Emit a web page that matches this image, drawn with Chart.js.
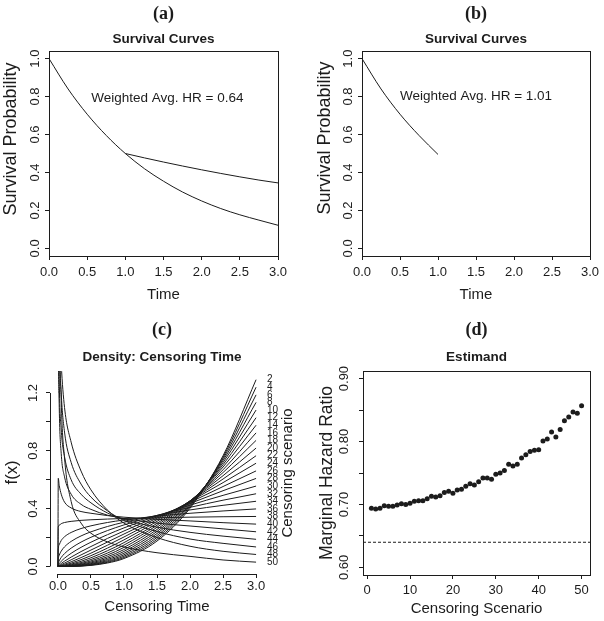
<!DOCTYPE html>
<html>
<head>
<meta charset="utf-8">
<script src="https://cdn.jsdelivr.net/npm/chart.js@4.4.1/dist/chart.umd.min.js"></script>
<style>
  html, body { margin: 0; padding: 0; background: #fff; }
  #wrap { position: relative; width: 604px; height: 621px; }
  .panel { position: absolute; }
</style>
</head>
<body>
<div id="wrap">
  <div class="panel" style="left:0;top:0"><canvas id="panelA" width="302" height="310"></canvas></div>
  <div class="panel" style="left:302px;top:0"><canvas id="panelB" width="302" height="310"></canvas></div>
  <div class="panel" style="left:0;top:310px"><canvas id="panelC" width="302" height="311"></canvas></div>
  <div class="panel" style="left:302px;top:310px"><canvas id="panelD" width="302" height="311"></canvas></div>
</div>
<script>
// (a) / (b) survival curves
const survTime = [0, 0.25, 0.5, 0.75, 1, 1.25, 1.5, 1.75, 2, 2.25, 2.5, 2.75, 3];
const survLower = [1, 0.84, 0.707, 0.595, 0.5, 0.42, 0.354, 0.297, 0.25, 0.21, 0.177, 0.149, 0.122];
const survUpperTime = [1, 1.25, 1.5, 1.75, 2, 2.25, 2.5, 2.75, 3];
const survUpper = [0.5, 0.477, 0.455, 0.434, 0.414, 0.395, 0.377, 0.36, 0.345];
const survTimeB = [0, 0.25, 0.5, 0.75, 1];
const survB = [1, 0.84, 0.707, 0.595, 0.495];
const timeTicks = [0, 0.5, 1, 1.5, 2, 2.5, 3];
const survTicks = [0, 0.2, 0.4, 0.6, 0.8, 1];

// (c) censoring time densities, one row per plotted scenario
const densityX = [0, 0.005, 0.02, 0.05, 0.1, 0.2, 0.35, 0.5, 0.75, 1, 1.5, 2, 2.5, 3];
const scenarioIds = [2, 4, 6, 8, 10, 12, 14, 16, 18, 20, 22, 24, 26, 28, 30, 32, 34, 36, 38, 40, 42, 44, 46, 48, 50];
const densityCurves = [
  [0, 0, 0, 0, 0.0001, 0.0005, 0.0027, 0.0075, 0.024, 0.055, 0.176, 0.403, 0.766, 1.292],
  [0, 0, 0, 0, 0.0001, 0.0008, 0.0036, 0.0095, 0.0286, 0.0624, 0.188, 0.412, 0.756, 1.240],
  [0, 0, 0, 0, 0.0002, 0.0012, 0.0048, 0.0121, 0.034, 0.071, 0.201, 0.421, 0.745, 1.187],
  [0, 0, 0, 0.0001, 0.0003, 0.0017, 0.0065, 0.0153, 0.0405, 0.0807, 0.214, 0.429, 0.733, 1.135],
  [0, 0, 0, 0.0001, 0.0005, 0.0025, 0.0087, 0.0193, 0.0481, 0.0918, 0.228, 0.436, 0.719, 1.082],
  [0, 0, 0, 0.0002, 0.0009, 0.0036, 0.0116, 0.0245, 0.057, 0.104, 0.242, 0.442, 0.704, 1.029],
  [0, 0, 0.0001, 0.0004, 0.0014, 0.0052, 0.0155, 0.0307, 0.0672, 0.117, 0.256, 0.447, 0.688, 0.977],
  [0, 0, 0.0001, 0.0007, 0.0022, 0.0076, 0.0205, 0.0386, 0.0793, 0.132, 0.271, 0.451, 0.669, 0.924],
  [0, 0, 0.0003, 0.0012, 0.0036, 0.011, 0.0271, 0.0482, 0.0929, 0.148, 0.285, 0.453, 0.650, 0.872],
  [0, 0.0001, 0.0006, 0.0021, 0.0058, 0.0158, 0.0358, 0.0602, 0.109, 0.165, 0.298, 0.454, 0.628, 0.819],
  [0, 0.0002, 0.0011, 0.0038, 0.0093, 0.0228, 0.0471, 0.0748, 0.127, 0.184, 0.312, 0.453, 0.605, 0.766],
  [0, 0.0005, 0.0023, 0.0067, 0.0147, 0.0324, 0.0614, 0.0922, 0.147, 0.204, 0.324, 0.450, 0.580, 0.714],
  [0, 0.0012, 0.0048, 0.0118, 0.0233, 0.0461, 0.080, 0.1136, 0.169, 0.2245, 0.3345, 0.444, 0.553, 0.661],
  [0, 0.0031, 0.0097, 0.0206, 0.0366, 0.0649, 0.103, 0.138, 0.194, 0.2455, 0.343, 0.4356, 0.524, 0.609],
  [0, 0.0077, 0.0196, 0.0361, 0.0573, 0.0911, 0.1324, 0.168, 0.220, 0.267, 0.350, 0.424, 0.492, 0.556],
  [0, 0.0194, 0.0392, 0.0626, 0.0891, 0.1268, 0.1686, 0.202, 0.2484, 0.2876, 0.3535, 0.409, 0.4584, 0.503],
  [0, 0.047, 0.0769, 0.1063, 0.1358, 0.1734, 0.2113, 0.2396, 0.2765, 0.306, 0.353, 0.391, 0.423, 0.451],
  [0, 0.115, 0.1506, 0.180, 0.2057, 0.2353, 0.2624, 0.2811, 0.3042, 0.3216, 0.348, 0.368, 0.384, 0.398],
  [0, 0.271, 0.286, 0.296, 0.304, 0.312, 0.319, 0.323, 0.328, 0.332, 0.337, 0.341, 0.344, 0.346],
  [0, 0.61, 0.56, 0.5, 0.445, 0.405, 0.38, 0.368, 0.352, 0.341, 0.326, 0.315, 0.303, 0.293],
  [3.0, 1.75, 1.1, 0.78, 0.62, 0.5, 0.43, 0.395, 0.355, 0.332, 0.3, 0.28, 0.26, 0.24],
  [3.5, 2.1, 1.3, 0.95, 0.76, 0.6, 0.5, 0.44, 0.37, 0.325, 0.272, 0.236, 0.21, 0.188],
  [4.0, 2.5, 1.6, 1.2, 0.93, 0.72, 0.57, 0.48, 0.385, 0.318, 0.242, 0.19, 0.16, 0.135],
  [4.5, 2.9, 1.8, 1.4, 1.1, 0.86, 0.66, 0.53, 0.39, 0.3, 0.2, 0.14, 0.105, 0.083],
  [5.0, 3.5, 1.9, 1.15, 0.75, 0.45, 0.3, 0.23, 0.17, 0.135, 0.095, 0.07, 0.045, 0.03]
];
const densityTicks = [0, 0.2, 0.4, 0.6, 0.8, 1.0, 1.2];
const densityTickLabels = ['0.0', '', '0.4', '', '0.8', '', '1.2'];

// (d) estimand by censoring scenario
const scenarios = [1, 2, 3, 4, 5, 6, 7, 8, 9, 10, 11, 12, 13, 14, 15, 16, 17, 18, 19, 20, 21, 22, 23, 24, 25,
  26, 27, 28, 29, 30, 31, 32, 33, 34, 35, 36, 37, 38, 39, 40, 41, 42, 43, 44, 45, 46, 47, 48, 49, 50];
const marginalHR = [0.694, 0.693, 0.694, 0.698, 0.697, 0.697, 0.699, 0.701, 0.700, 0.702,
  0.705, 0.706, 0.706, 0.709, 0.713, 0.712, 0.714, 0.719, 0.721, 0.718,
  0.723, 0.724, 0.729, 0.733, 0.731, 0.736, 0.742, 0.742, 0.740, 0.748,
  0.750, 0.754, 0.764, 0.761, 0.764, 0.774, 0.779, 0.784, 0.786, 0.787,
  0.801, 0.804, 0.815, 0.807, 0.819, 0.833, 0.839, 0.847, 0.845, 0.857];
const weightedHR = 0.64;
const scenarioTicks = [0, 10, 20, 30, 40, 50];
const hrTicks = [0.60, 0.65, 0.70, 0.75, 0.80, 0.85, 0.90];
const hrTickLabels = ['0.60', '', '0.70', '', '0.80', '', '0.90'];

const INK = '#1c1c1c';
const SANS = "'Liberation Sans', Arial, sans-serif";
Chart.defaults.font.family = SANS;
Chart.defaults.color = INK;

function pts(xs, ys) { return xs.map((x, i) => ({ x: x, y: ys[i] })); }

function curve(xs, ys) {
  return { data: pts(xs, ys), showLine: true, pointRadius: 0, borderColor: INK,
    borderWidth: 1, cubicInterpolationMode: 'monotone', fill: false };
}

function axis(pos, min, max, ticks, labels, size, tickOpts, title) {
  const vertical = pos === 'left' || pos === 'right';
  return {
    type: 'linear', position: pos, min: min, max: max,
    afterBuildTicks: s => { s.ticks = ticks.map(v => ({ value: v })); },
    afterFit: s => { if (vertical) s.width = size; else s.height = size; },
    ticks: Object.assign({ autoSkip: false, color: INK, font: { size: 13 },
      callback: (v, i) => labels[i] }, tickOpts),
    grid: { drawOnChartArea: false, drawTicks: true, tickLength: 4, color: INK, lineWidth: 1 },
    border: { display: false },
    title: title || { display: false }
  };
}

// offset = distance of the title centre from the outer edge of the axis box
function axisTitle(text, offset, size) {
  const half = size * 0.6;
  return { display: true, text: text, color: INK, font: { size: size },
    padding: { top: offset - half, bottom: offset - half } };
}

function heads(main, sub, c1, c2, top, full) {
  const h1 = 18 * 1.2, h2 = 13.5 * 1.2;
  return {
    title: { display: true, text: main, color: INK, fullSize: full,
      font: { family: "'Liberation Serif', 'Times New Roman', serif", size: 18, weight: 'bold' },
      padding: { top: c1 - h1 / 2, bottom: 0 } },
    subtitle: { display: true, text: sub, color: INK, fullSize: full, font: { size: 13.5, weight: 'bold' },
      padding: { top: c2 - h2 / 2 - (c1 + h1 / 2), bottom: top - (c2 + h2 / 2) } }
  };
}

const frame = {
  id: 'frame',
  afterDraw(chart, args, o) {
    const { ctx, chartArea: a, scales } = chart;
    ctx.save();
    ctx.strokeStyle = INK;
    ctx.fillStyle = INK;
    ctx.lineWidth = 1;
    if (o.box) {
      ctx.strokeRect(Math.round(a.left) + 0.5, Math.round(a.top) + 0.5,
        Math.round(a.right - a.left), Math.round(a.bottom - a.top));
    }
    if (o.axes) {
      const x = scales.x, y = scales.y;
      const yb = Math.round(a.bottom) + 0.5, xl = Math.round(a.left) + 0.5;
      ctx.beginPath();
      ctx.moveTo(x.getPixelForValue(o.axes.x[0]), yb);
      ctx.lineTo(x.getPixelForValue(o.axes.x[1]), yb);
      ctx.moveTo(xl, y.getPixelForValue(o.axes.y[0]));
      ctx.lineTo(xl, y.getPixelForValue(o.axes.y[1]));
      ctx.stroke();
    }
    ctx.textAlign = 'center';
    ctx.textBaseline = 'middle';
    if (o.note) {
      ctx.font = '13.5px ' + SANS;
      ctx.fillText(o.note.text, scales.x.getPixelForValue(o.note.x), scales.y.getPixelForValue(o.note.y));
    }
    if (o.side) {
      ctx.font = o.side.size + 'px ' + SANS;
      ctx.translate(o.side.x, o.side.y);
      ctx.rotate(-Math.PI / 2);
      ctx.fillText(o.side.text, 0, 0);
    }
    ctx.restore();
  }
};

const yRot = { minRotation: 90, maxRotation: 90, crossAlign: 'center' };

function survivalChart(id, sets, area, note, titles, side) {
  const W = 302, H = 310;
  return new Chart(document.getElementById(id), {
    type: 'scatter',
    data: { datasets: sets },
    options: {
      responsive: false, animation: false, events: [],
      layout: { padding: { left: 0, top: 0, right: W - area.r, bottom: 0 } },
      plugins: Object.assign({ legend: { display: false }, tooltip: { enabled: false },
        frame: { box: true, note: note, side: side } }, titles),
      scales: {
        x: axis('bottom', 0, 3, timeTicks, timeTicks.map(v => v.toFixed(1)), H - area.b,
          { padding: 4.5 }, axisTitle('Time', 15, 15)),
        y: axis('left', -0.04, 1.04, survTicks, survTicks.map(v => v.toFixed(1)), area.l,
          Object.assign({ padding: 1 }, yRot))
      }
    },
    plugins: [frame]
  });
}

survivalChart('panelA',
  [curve(survTime, survLower), curve(survUpperTime, survUpper)],
  { l: 49, r: 278, b: 256 },
  { text: 'Weighted Avg. HR = 0.64', x: 1.55, y: 0.79 },
  heads('(a)', 'Survival Curves', 14, 39, 51, false),
  { text: 'Survival Probability', x: 11, y: 139, size: 18 });

survivalChart('panelB',
  [curve(survTimeB, survB)],
  { l: 60, r: 288, b: 256 },
  { text: 'Weighted Avg. HR = 1.01', x: 1.5, y: 0.80 },
  heads('(b)', 'Survival Curves', 14, 39, 51, false),
  { text: 'Survival Probability', x: 23.5, y: 138, size: 18 });

// (c)
new Chart(document.getElementById('panelC'), {
  type: 'scatter',
  data: { datasets: densityCurves.map(ys => curve(densityX, ys)) },
  options: {
    responsive: false, animation: false, events: [],
    layout: { padding: { left: 22, top: 0, right: 0, bottom: 0 } },
    plugins: Object.assign({ legend: { display: false }, tooltip: { enabled: false },
      frame: { axes: { x: [0, 3], y: [0, 1.2] },
        side: { text: 'Censoring scenario', x: 288, y: 163, size: 15 } } },
      heads('(c)', 'Density: Censoring Time', 20, 47.5, 61, true)),
    scales: {
      x: axis('bottom', -0.12, 3.12, timeTicks, timeTicks.map(v => v.toFixed(1)), 311 - 264,
        { padding: 1 }, axisTitle('Censoring Time', 14, 15)),
      y: axis('left', -0.052, 1.352, densityTicks, densityTickLabels, 28,
        Object.assign({ padding: 4 }, yRot), axisTitle('f(x)', -10, 16.5)),
      y2: {
        type: 'linear', position: 'right', min: -0.052, max: 1.352,
        afterBuildTicks: s => { s.ticks = densityCurves.map(ys => ({ value: ys[ys.length - 1] })); },
        afterFit: s => { s.width = 302 - 264; },
        ticks: { autoSkip: false, color: INK, padding: 3, font: { size: 10 },
          callback: (v, i) => String(scenarioIds[i]) },
        grid: { display: false, drawTicks: false },
        border: { display: false }
      }
    }
  },
  plugins: [frame]
});

// (d)
new Chart(document.getElementById('panelD'), {
  type: 'scatter',
  data: {
    datasets: [
      { data: pts(scenarios, marginalHR), pointRadius: 2.5, pointBackgroundColor: INK,
        pointBorderWidth: 0, borderColor: INK },
      { data: [{ x: -0.96, y: weightedHR }, { x: 51.96, y: weightedHR }], showLine: true,
        pointRadius: 0, borderColor: INK, borderWidth: 1, borderDash: [3, 2] }
    ]
  },
  options: {
    responsive: false, animation: false, events: [],
    layout: { padding: { left: 0, top: 0, right: 302 - 288, bottom: 0 } },
    plugins: Object.assign({ legend: { display: false }, tooltip: { enabled: false },
      frame: { box: true } }, heads('(d)', 'Estimand', 20.5, 47, 61, false)),
    scales: {
      x: axis('bottom', -0.96, 51.96, scenarioTicks, scenarioTicks.map(String), 311 - 265,
        { padding: 4 }, axisTitle('Censoring Scenario', 12.5, 15)),
      y: axis('left', 0.588, 0.912, hrTicks, hrTickLabels, 61,
        Object.assign({ padding: 1.5 }, yRot), axisTitle('Marginal Hazard Ratio', 25, 17.5))
    }
  },
  plugins: [frame]
});
</script>
</body>
</html>
